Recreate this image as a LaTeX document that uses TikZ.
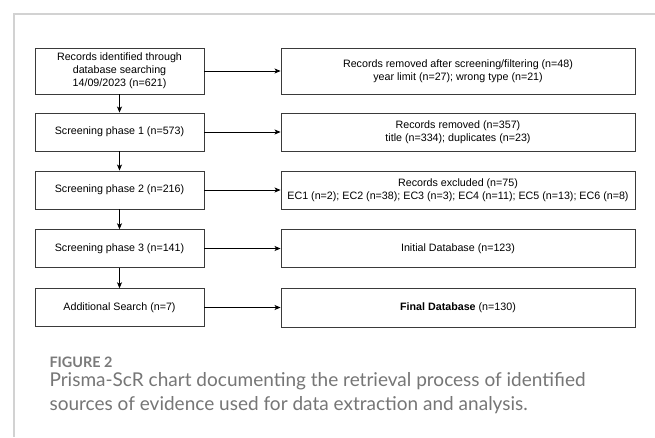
\documentclass[tikz,border=0pt]{standalone}
\usepackage{fontspec}
\setmainfont{Liberation Sans}
\newfontfamily\capfont{Lato}
\usetikzlibrary{arrows.meta}
\definecolor{framegray}{HTML}{D2D2D2}
\definecolor{capgray}{HTML}{767676}
\definecolor{figgray}{HTML}{7A7A7A}
\definecolor{boxline}{HTML}{3A3A3A}
\newsavebox\capmeasure
\newsavebox\figmeasure
\newdimen\capmeasurewd
\newdimen\figmeasurewd
\tikzset{
  lbox/.style={draw=boxline, line width=0.9pt, align=center, inner sep=0pt,
    minimum width=169pt, font=\fontsize{10.7}{13.2}\selectfont},
  rbox/.style={draw=boxline, line width=0.9pt, align=center, inner sep=0pt,
    minimum width=354pt, font=\fontsize{10.7}{13.2}\selectfont},
  arr/.style={draw=black, line width=0.8pt, -{Stealth[length=6pt,width=5pt,inset=1.5pt]}},
  frameline/.style={draw=framegray, line width=1.3pt},
  capfig/.style={anchor=base west, text=figgray, font=\capfont\bfseries\fontsize{\figsize}{17}\selectfont},
  captext/.style={anchor=base west, text=capgray, font=\capfont\fontsize{\capsize}{20}\selectfont}
}
\begin{document}
\sbox\capmeasure{\capfont\fontsize{16}{20}\selectfont Prisma-ScR chart documenting the retrieval process of identified}%
\sbox\figmeasure{\capfont\bfseries\fontsize{14}{17}\selectfont FIGURE 2}%
\capmeasurewd=\wd\capmeasure
\figmeasurewd=\wd\figmeasure
\pgfmathsetmacro\capsize{16*536/\capmeasurewd}%
\pgfmathsetmacro\figsize{14*63/\figmeasurewd}%
\begin{tikzpicture}[x=1pt,y=-1pt]
\useasboundingbox (0,0) rectangle (655,437);
\fill[white] (0,0) rectangle (655,437);
\coordinate (ftr) at (655,14);
\coordinate (ftl) at (14,14);
\coordinate (fbl) at (14,437);
\draw[frameline] (ftr) -- (ftl) -- (fbl);

\node[lbox, minimum height=46pt] (l1) at (119.5,71) {Records identified through\\database searching\\14/09/2023 (n=621)};
\node[lbox, minimum height=38pt] (l2) at (119.5,132) {Screening phase 1 (n=573)};
\node[lbox, minimum height=38pt] (l3) at (119.5,190) {Screening phase 2 (n=216)};
\node[lbox, minimum height=37.5pt] (l4) at (119.5,248.5) {Screening phase 3 (n=141)};
\node[lbox, minimum height=37.5pt] (l5) at (119.5,307.5) {Additional Search (n=7)};

\node[rbox, minimum height=46pt] (r1) at (458,71) {Records removed after screening/filtering (n=48)\\year limit (n=27); wrong type (n=21)};
\node[rbox, minimum height=38pt] (r2) at (458,132) {Records removed (n=357)\\title (n=334); duplicates (n=23)};
\node[rbox, minimum height=38pt] (r3) at (458,190) {Records excluded (n=75)\\EC1 (n=2); EC2 (n=38); EC3 (n=3); EC4 (n=11); EC5 (n=13); EC6 (n=8)};
\node[rbox, minimum height=38.5pt] (r4) at (458,248.5) {Initial Database (n=123)};
\node[rbox, minimum height=38.5pt] (r5) at (458,308) {\textbf{Final Database} (n=130)};

\draw[arr] (l1.east) -- (l1.east -| r1.west);
\draw[arr] (l2.east) -- (l2.east -| r2.west);
\draw[arr] (l3.east) -- (l3.east -| r3.west);
\draw[arr] (l4.east) -- (l4.east -| r4.west);
\draw[arr] (l5.east) -- (l5.east -| r5.west);

\draw[arr] (l1.south) -- (l2.north);
\draw[arr] (l2.south) -- (l3.north);
\draw[arr] (l3.south) -- (l4.north);
\draw[arr] (l4.south) -- (l5.north);

\node[capfig] (fig) at (46,367) {FIGURE 2};
\node[captext] (cap1) at (46,386.5) {Prisma-ScR chart documenting the retrieval process of identified};
\node[captext] (cap2) at (46,410) {sources of evidence used for data extraction and analysis.};
\end{tikzpicture}
\end{document}
